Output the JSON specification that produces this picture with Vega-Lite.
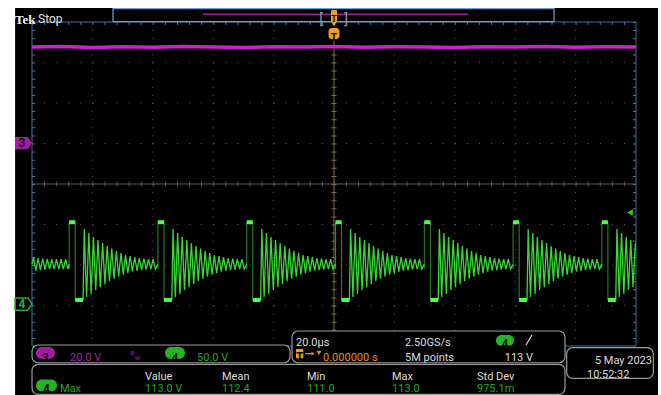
{
"$schema":"https://vega.github.io/schema/vega-lite/v6.json",
"width":661,"height":395,"autosize":{"type":"none"},"padding":0,
"background":"#ffffff",
"config":{"view":{"stroke":null},"axis":{"disable":true},"text":{"font":"Roboto","fontSize":11}},
"resolve":{"scale":{"y":"independent"}},
"layer":[
{"layer":[
{"data":{"values":[{}]},"mark":{"type":"rect","fill":"#000000"},"encoding":{"x":{"datum":-105.6,"scale":{"domain":[-110.6,108.28],"nice":false,"zero":false}},"x2":{"datum":107.3},"y":{"datum":4.346,"scale":{"domain":[-5.2099,4.5432],"nice":false,"zero":false}},"y2":{"datum":-5.3}}},
{"data":{"values":[{"t":-80},{"t":-60},{"t":-40},{"t":-20},{"t":20},{"t":40},{"t":60},{"t":80}]},"mark":{"type":"rule","stroke":"#666666","strokeWidth":1,"strokeDash":[1,7.1]},"encoding":{"x":{"field":"t","type":"quantitative","scale":{"domain":[-110.6,108.28],"nice":false,"zero":false}},"y":{"datum":4,"scale":{"domain":[-5.2099,4.5432],"nice":false,"zero":false}},"y2":{"datum":-4}}},
{"data":{"values":[{"d":-3},{"d":-2},{"d":-1},{"d":1},{"d":2},{"d":3}]},"mark":{"type":"rule","stroke":"#666666","strokeWidth":1,"strokeDash":[1,11.08]},"encoding":{"x":{"datum":-100,"scale":{"domain":[-110.6,108.28],"nice":false,"zero":false}},"x2":{"datum":100},"y":{"field":"d","type":"quantitative","scale":{"domain":[-5.2099,4.5432],"nice":false,"zero":false}}}},
{"data":{"values":[{}]},"mark":{"type":"rule","stroke":"#5f5a50","strokeWidth":1},"encoding":{"x":{"datum":-100,"scale":{"domain":[-110.6,108.28],"nice":false,"zero":false}},"x2":{"datum":100},"y":{"datum":0,"scale":{"domain":[-5.2099,4.5432],"nice":false,"zero":false}}}},
{"data":{"values":[{}]},"mark":{"type":"rule","stroke":"#5f5a50","strokeWidth":5,"strokeDash":[1,11.08]},"encoding":{"x":{"datum":-100,"scale":{"domain":[-110.6,108.28],"nice":false,"zero":false}},"x2":{"datum":100},"y":{"datum":0,"scale":{"domain":[-5.2099,4.5432],"nice":false,"zero":false}}}},
{"data":{"values":[{}]},"mark":{"type":"rule","stroke":"#7a6c52","strokeWidth":1},"encoding":{"x":{"datum":0,"scale":{"domain":[-110.6,108.28],"nice":false,"zero":false}},"y":{"datum":3.58,"scale":{"domain":[-5.2099,4.5432],"nice":false,"zero":false}},"y2":{"datum":-4}}},
{"data":{"values":[{}]},"mark":{"type":"rule","stroke":"#7a6c52","strokeWidth":5,"strokeDash":[1,7.1]},"encoding":{"x":{"datum":0,"scale":{"domain":[-110.6,108.28],"nice":false,"zero":false}},"y":{"datum":4,"scale":{"domain":[-5.2099,4.5432],"nice":false,"zero":false}},"y2":{"datum":-4}}},
{"data":{"values":[{}]},"mark":{"type":"rule","stroke":"#56748f","strokeWidth":3,"strokeDash":[1,11.08]},"encoding":{"x":{"datum":-100,"scale":{"domain":[-110.6,108.28],"nice":false,"zero":false}},"x2":{"datum":100},"y":{"datum":3.96,"scale":{"domain":[-5.2099,4.5432],"nice":false,"zero":false}}}},
{"data":{"values":[{"t":-99.5},{"t":99.5}]},"mark":{"type":"rule","stroke":"#56748f","strokeWidth":3,"strokeDash":[1,7.1]},"encoding":{"x":{"field":"t","type":"quantitative","scale":{"domain":[-110.6,108.28],"nice":false,"zero":false}},"y":{"datum":4,"scale":{"domain":[-5.2099,4.5432],"nice":false,"zero":false}},"y2":{"datum":-4}}},
{"data":{"values":[{}]},"mark":{"type":"rect","filled":false,"stroke":"#3d6e9e","strokeWidth":1},"encoding":{"x":{"datum":-100,"scale":{"domain":[-110.6,108.28],"nice":false,"zero":false}},"x2":{"datum":100},"y":{"datum":4,"scale":{"domain":[-5.2099,4.5432],"nice":false,"zero":false}},"y2":{"datum":-4}}},
{"data":{"values":[{}]},"mark":{"type":"rect","fill":"#000000","stroke":"#6f9fcf","strokeWidth":1.2},"encoding":{"x":{"datum":-73.18,"scale":{"domain":[-110.6,108.28],"nice":false,"zero":false}},"x2":{"datum":72.85},"y":{"datum":4.328,"scale":{"domain":[-5.2099,4.5432],"nice":false,"zero":false}},"y2":{"datum":4.007}}},
{"data":{"values":[{}]},"mark":{"type":"rule","stroke":"#a01ca0","strokeWidth":1.5},"encoding":{"x":{"datum":-43.4,"scale":{"domain":[-110.6,108.28],"nice":false,"zero":false}},"x2":{"datum":44.4},"y":{"datum":4.19,"scale":{"domain":[-5.2099,4.5432],"nice":false,"zero":false}}}},
{"data":{"values":[{"label":"[","t":-4.3,"d":4.06},{"label":"]","t":4.0,"d":4.06}]},"mark":{"type":"text","fontSize":14,"fill":"#9a9a9a","align":"center"},"encoding":{"x":{"field":"t","type":"quantitative","scale":{"domain":[-110.6,108.28],"nice":false,"zero":false}},"y":{"field":"d","type":"quantitative","scale":{"domain":[-5.2099,4.5432],"nice":false,"zero":false}},"text":{"field":"label"}}},
{"data":{"values":[{}]},"mark":{"type":"rect","fill":"#f0a020","cornerRadius":1},"encoding":{"x":{"datum":-1.0,"scale":{"domain":[-110.6,108.28],"nice":false,"zero":false}},"x2":{"datum":1.0},"y":{"datum":4.296,"scale":{"domain":[-5.2099,4.5432],"nice":false,"zero":false}},"y2":{"datum":4.025}}},
{"data":{"values":[{}]},"mark":{"type":"point","shape":"triangle-down","filled":true,"fill":"#f0a020","size":30,"opacity":1},"encoding":{"x":{"datum":0,"scale":{"domain":[-110.6,108.28],"nice":false,"zero":false}},"y":{"datum":3.95,"scale":{"domain":[-5.2099,4.5432],"nice":false,"zero":false}}}},
{"data":{"values":[{}]},"mark":{"type":"rect","fill":"#f0a020","cornerRadius":3},"encoding":{"x":{"datum":-1.8,"scale":{"domain":[-110.6,108.28],"nice":false,"zero":false}},"x2":{"datum":1.8},"y":{"datum":3.852,"scale":{"domain":[-5.2099,4.5432],"nice":false,"zero":false}},"y2":{"datum":3.58}}},
{"data":{"values":[{"label":"T","t":0,"d":4.062}]},"mark":{"type":"text","fontSize":9,"fontWeight":"bold","fill":"#1a1000","align":"center"},"encoding":{"x":{"field":"t","type":"quantitative","scale":{"domain":[-110.6,108.28],"nice":false,"zero":false}},"y":{"field":"d","type":"quantitative","scale":{"domain":[-5.2099,4.5432],"nice":false,"zero":false}},"text":{"field":"label"}}},
{"data":{"values":[{"label":"T","t":0,"d":3.615}]},"mark":{"type":"text","fontSize":11,"fontWeight":"bold","fill":"#1a1000","align":"center"},"encoding":{"x":{"field":"t","type":"quantitative","scale":{"domain":[-110.6,108.28],"nice":false,"zero":false}},"y":{"field":"d","type":"quantitative","scale":{"domain":[-5.2099,4.5432],"nice":false,"zero":false}},"text":{"field":"label"}}},
{"data":{"values":[{"label":"Tek","t":-105.6,"d":4.049}]},"mark":{"type":"text","font":"Liberation Sans Narrow, Liberation Serif","fontSize":13,"fontWeight":"bold","fill":"#f4f4f4","align":"left"},"encoding":{"x":{"field":"t","type":"quantitative","scale":{"domain":[-110.6,108.28],"nice":false,"zero":false}},"y":{"field":"d","type":"quantitative","scale":{"domain":[-5.2099,4.5432],"nice":false,"zero":false}},"text":{"field":"label"}}},
{"data":{"values":[{"label":"Stop","t":-98.0,"d":4.067}]},"mark":{"type":"text","fontSize":12,"fill":"#e0e0e0","align":"left"},"encoding":{"x":{"field":"t","type":"quantitative","scale":{"domain":[-110.6,108.28],"nice":false,"zero":false}},"y":{"field":"d","type":"quantitative","scale":{"domain":[-5.2099,4.5432],"nice":false,"zero":false}},"text":{"field":"label"}}}
]},
{"layer":[
{"data":{"values":[{"t":-100,"v":47.4},{"t":-90,"v":47.6},{"t":-80,"v":47.2},{"t":-70,"v":47.5},{"t":-60,"v":47.3},{"t":-50,"v":47.6},{"t":-40,"v":47.4},{"t":-30,"v":47.2},{"t":-20,"v":47.5},{"t":-10,"v":47.4},{"t":0,"v":47.6},{"t":10,"v":47.3},{"t":20,"v":47.5},{"t":30,"v":47.4},{"t":40,"v":47.2},{"t":50,"v":47.5},{"t":60,"v":47.4},{"t":70,"v":47.6},{"t":80,"v":47.3},{"t":90,"v":47.5},{"t":100,"v":47.4}]},"mark":{"type":"line","stroke":"#d21fd2","strokeWidth":3.5},"encoding":{"x":{"field":"t","type":"quantitative","scale":{"domain":[-110.6,108.28],"nice":false,"zero":false}},"y":{"field":"v","type":"quantitative","scale":{"domain":[-124.44,70.62],"nice":false,"zero":false}}}},
{"data":{"values":[{}]},"mark":{"type":"point","shape":"M-1,-0.72L0.5,-0.72L1,0L0.5,0.72L-1,0.72Z","filled":true,"fill":"#a41ca4","size":289,"opacity":1},"encoding":{"x":{"datum":-102.81,"scale":{"domain":[-110.6,108.28],"nice":false,"zero":false}},"y":{"datum":0,"scale":{"domain":[-124.44,70.62],"nice":false,"zero":false}}}},
{"data":{"values":[{"label":"3"}]},"mark":{"type":"text","fontSize":12,"fontWeight":"bold","fill":"#1a001a","align":"center","baseline":"middle"},"encoding":{"x":{"datum":-103.3,"scale":{"domain":[-110.6,108.28],"nice":false,"zero":false}},"y":{"datum":0,"scale":{"domain":[-124.44,70.62],"nice":false,"zero":false}},"text":{"field":"label"}}}
]},
{"layer":[
{"data":{"values":[
{"t":-87.7,"a":43,"b":101},{"t":-85.7,"a":101,"b":5},
{"t":-58.3,"a":43,"b":101},{"t":-56.3,"a":101,"b":5},
{"t":-28.9,"a":43,"b":101},{"t":-26.9,"a":101,"b":5},
{"t":0.5,"a":43,"b":101},{"t":2.5,"a":101,"b":5},
{"t":29.9,"a":43,"b":101},{"t":31.9,"a":101,"b":5},
{"t":59.3,"a":43,"b":101},{"t":61.3,"a":101,"b":5},
{"t":88.7,"a":43,"b":101},{"t":90.7,"a":101,"b":5}
]},"mark":{"type":"rule","stroke":"#2b8f2b","strokeWidth":1},"encoding":{"x":{"field":"t","type":"quantitative","scale":{"domain":[-110.6,108.28],"nice":false,"zero":false}},"y":{"field":"a","type":"quantitative","scale":{"domain":[-112.3,375.3],"nice":false,"zero":false}},"y2":{"field":"b"}}},
{"data":{"values":[
{"p":0,"t":-100,"v":49},{"p":0,"t":-99.5,"v":57.9},{"p":0,"t":-98.74,"v":41.3},{"p":0,"t":-97.98,"v":56.7},{"p":0,"t":-97.22,"v":41.9},{"p":0,"t":-96.46,"v":56.1},{"p":0,"t":-95.7,"v":42.5},{"p":0,"t":-94.94,"v":55.5},{"p":0,"t":-94.18,"v":43.1},{"p":0,"t":-93.42,"v":55.5},{"p":0,"t":-92.66,"v":43.1},{"p":0,"t":-91.9,"v":55.5},{"p":0,"t":-91.14,"v":43.1},{"p":0,"t":-90.38,"v":55.5},{"p":0,"t":-89.62,"v":43.1},{"p":0,"t":-88.86,"v":55.5},{"p":0,"t":-88.1,"v":43.1},{"p":0,"t":-87.7,"v":49},
{"p":1,"t":-83.1,"v":5},{"p":1,"t":-82.7,"v":92.5},{"p":1,"t":-81.94,"v":8.6},{"p":1,"t":-81.18,"v":87.6},{"p":1,"t":-80.42,"v":12.3},{"p":1,"t":-79.66,"v":82.6},{"p":1,"t":-78.9,"v":17.2},{"p":1,"t":-78.14,"v":78.9},{"p":1,"t":-77.38,"v":20.9},{"p":1,"t":-76.62,"v":75.2},{"p":1,"t":-75.86,"v":24.6},{"p":1,"t":-75.1,"v":71.5},{"p":1,"t":-74.34,"v":28.3},{"p":1,"t":-73.58,"v":68.4},{"p":1,"t":-72.82,"v":31.4},{"p":1,"t":-72.06,"v":65.3},{"p":1,"t":-71.3,"v":33.9},{"p":1,"t":-70.54,"v":62.9},{"p":1,"t":-69.78,"v":36.3},{"p":1,"t":-69.02,"v":60.4},{"p":1,"t":-68.26,"v":38.2},{"p":1,"t":-67.5,"v":59.2},{"p":1,"t":-66.74,"v":40.0},{"p":1,"t":-65.98,"v":57.9},{"p":1,"t":-65.22,"v":41.3},{"p":1,"t":-64.46,"v":56.7},{"p":1,"t":-63.7,"v":41.9},{"p":1,"t":-62.94,"v":56.1},{"p":1,"t":-62.18,"v":42.5},{"p":1,"t":-61.42,"v":55.5},{"p":1,"t":-60.66,"v":43.1},{"p":1,"t":-59.9,"v":55.5},{"p":1,"t":-59.14,"v":43.1},{"p":1,"t":-58.3,"v":49},
{"p":2,"t":-53.7,"v":5},{"p":2,"t":-53.3,"v":92.5},{"p":2,"t":-52.54,"v":8.6},{"p":2,"t":-51.78,"v":87.6},{"p":2,"t":-51.02,"v":12.3},{"p":2,"t":-50.26,"v":82.6},{"p":2,"t":-49.5,"v":17.2},{"p":2,"t":-48.74,"v":78.9},{"p":2,"t":-47.98,"v":20.9},{"p":2,"t":-47.22,"v":75.2},{"p":2,"t":-46.46,"v":24.6},{"p":2,"t":-45.7,"v":71.5},{"p":2,"t":-44.94,"v":28.3},{"p":2,"t":-44.18,"v":68.4},{"p":2,"t":-43.42,"v":31.4},{"p":2,"t":-42.66,"v":65.3},{"p":2,"t":-41.9,"v":33.9},{"p":2,"t":-41.14,"v":62.9},{"p":2,"t":-40.38,"v":36.3},{"p":2,"t":-39.62,"v":60.4},{"p":2,"t":-38.86,"v":38.2},{"p":2,"t":-38.1,"v":59.2},{"p":2,"t":-37.34,"v":40.0},{"p":2,"t":-36.58,"v":57.9},{"p":2,"t":-35.82,"v":41.3},{"p":2,"t":-35.06,"v":56.7},{"p":2,"t":-34.3,"v":41.9},{"p":2,"t":-33.54,"v":56.1},{"p":2,"t":-32.78,"v":42.5},{"p":2,"t":-32.02,"v":55.5},{"p":2,"t":-31.26,"v":43.1},{"p":2,"t":-30.5,"v":55.5},{"p":2,"t":-29.74,"v":43.1},{"p":2,"t":-28.9,"v":49},
{"p":3,"t":-24.3,"v":5},{"p":3,"t":-23.9,"v":92.5},{"p":3,"t":-23.14,"v":8.6},{"p":3,"t":-22.38,"v":87.6},{"p":3,"t":-21.62,"v":12.3},{"p":3,"t":-20.86,"v":82.6},{"p":3,"t":-20.1,"v":17.2},{"p":3,"t":-19.34,"v":78.9},{"p":3,"t":-18.58,"v":20.9},{"p":3,"t":-17.82,"v":75.2},{"p":3,"t":-17.06,"v":24.6},{"p":3,"t":-16.3,"v":71.5},{"p":3,"t":-15.54,"v":28.3},{"p":3,"t":-14.78,"v":68.4},{"p":3,"t":-14.02,"v":31.4},{"p":3,"t":-13.26,"v":65.3},{"p":3,"t":-12.5,"v":33.9},{"p":3,"t":-11.74,"v":62.9},{"p":3,"t":-10.98,"v":36.3},{"p":3,"t":-10.22,"v":60.4},{"p":3,"t":-9.46,"v":38.2},{"p":3,"t":-8.7,"v":59.2},{"p":3,"t":-7.94,"v":40.0},{"p":3,"t":-7.18,"v":57.9},{"p":3,"t":-6.42,"v":41.3},{"p":3,"t":-5.66,"v":56.7},{"p":3,"t":-4.9,"v":41.9},{"p":3,"t":-4.14,"v":56.1},{"p":3,"t":-3.38,"v":42.5},{"p":3,"t":-2.62,"v":55.5},{"p":3,"t":-1.86,"v":43.1},{"p":3,"t":-1.1,"v":55.5},{"p":3,"t":-0.34,"v":43.1},{"p":3,"t":0.5,"v":49},
{"p":4,"t":5.1,"v":5},{"p":4,"t":5.5,"v":92.5},{"p":4,"t":6.26,"v":8.6},{"p":4,"t":7.02,"v":87.6},{"p":4,"t":7.78,"v":12.3},{"p":4,"t":8.54,"v":82.6},{"p":4,"t":9.3,"v":17.2},{"p":4,"t":10.06,"v":78.9},{"p":4,"t":10.82,"v":20.9},{"p":4,"t":11.58,"v":75.2},{"p":4,"t":12.34,"v":24.6},{"p":4,"t":13.1,"v":71.5},{"p":4,"t":13.86,"v":28.3},{"p":4,"t":14.62,"v":68.4},{"p":4,"t":15.38,"v":31.4},{"p":4,"t":16.14,"v":65.3},{"p":4,"t":16.9,"v":33.9},{"p":4,"t":17.66,"v":62.9},{"p":4,"t":18.42,"v":36.3},{"p":4,"t":19.18,"v":60.4},{"p":4,"t":19.94,"v":38.2},{"p":4,"t":20.7,"v":59.2},{"p":4,"t":21.46,"v":40.0},{"p":4,"t":22.22,"v":57.9},{"p":4,"t":22.98,"v":41.3},{"p":4,"t":23.74,"v":56.7},{"p":4,"t":24.5,"v":41.9},{"p":4,"t":25.26,"v":56.1},{"p":4,"t":26.02,"v":42.5},{"p":4,"t":26.78,"v":55.5},{"p":4,"t":27.54,"v":43.1},{"p":4,"t":28.3,"v":55.5},{"p":4,"t":29.06,"v":43.1},{"p":4,"t":29.9,"v":49},
{"p":5,"t":34.5,"v":5},{"p":5,"t":34.9,"v":92.5},{"p":5,"t":35.66,"v":8.6},{"p":5,"t":36.42,"v":87.6},{"p":5,"t":37.18,"v":12.3},{"p":5,"t":37.94,"v":82.6},{"p":5,"t":38.7,"v":17.2},{"p":5,"t":39.46,"v":78.9},{"p":5,"t":40.22,"v":20.9},{"p":5,"t":40.98,"v":75.2},{"p":5,"t":41.74,"v":24.6},{"p":5,"t":42.5,"v":71.5},{"p":5,"t":43.26,"v":28.3},{"p":5,"t":44.02,"v":68.4},{"p":5,"t":44.78,"v":31.4},{"p":5,"t":45.54,"v":65.3},{"p":5,"t":46.3,"v":33.9},{"p":5,"t":47.06,"v":62.9},{"p":5,"t":47.82,"v":36.3},{"p":5,"t":48.58,"v":60.4},{"p":5,"t":49.34,"v":38.2},{"p":5,"t":50.1,"v":59.2},{"p":5,"t":50.86,"v":40.0},{"p":5,"t":51.62,"v":57.9},{"p":5,"t":52.38,"v":41.3},{"p":5,"t":53.14,"v":56.7},{"p":5,"t":53.9,"v":41.9},{"p":5,"t":54.66,"v":56.1},{"p":5,"t":55.42,"v":42.5},{"p":5,"t":56.18,"v":55.5},{"p":5,"t":56.94,"v":43.1},{"p":5,"t":57.7,"v":55.5},{"p":5,"t":58.46,"v":43.1},{"p":5,"t":59.3,"v":49},
{"p":6,"t":63.9,"v":5},{"p":6,"t":64.3,"v":92.5},{"p":6,"t":65.06,"v":8.6},{"p":6,"t":65.82,"v":87.6},{"p":6,"t":66.58,"v":12.3},{"p":6,"t":67.34,"v":82.6},{"p":6,"t":68.1,"v":17.2},{"p":6,"t":68.86,"v":78.9},{"p":6,"t":69.62,"v":20.9},{"p":6,"t":70.38,"v":75.2},{"p":6,"t":71.14,"v":24.6},{"p":6,"t":71.9,"v":71.5},{"p":6,"t":72.66,"v":28.3},{"p":6,"t":73.42,"v":68.4},{"p":6,"t":74.18,"v":31.4},{"p":6,"t":74.94,"v":65.3},{"p":6,"t":75.7,"v":33.9},{"p":6,"t":76.46,"v":62.9},{"p":6,"t":77.22,"v":36.3},{"p":6,"t":77.98,"v":60.4},{"p":6,"t":78.74,"v":38.2},{"p":6,"t":79.5,"v":59.2},{"p":6,"t":80.26,"v":40.0},{"p":6,"t":81.02,"v":57.9},{"p":6,"t":81.78,"v":41.3},{"p":6,"t":82.54,"v":56.7},{"p":6,"t":83.3,"v":41.9},{"p":6,"t":84.06,"v":56.1},{"p":6,"t":84.82,"v":42.5},{"p":6,"t":85.58,"v":55.5},{"p":6,"t":86.34,"v":43.1},{"p":6,"t":87.1,"v":55.5},{"p":6,"t":87.86,"v":43.1},{"p":6,"t":88.7,"v":49},
{"p":7,"t":93.3,"v":5},{"p":7,"t":93.7,"v":92.5},{"p":7,"t":94.46,"v":8.6},{"p":7,"t":95.22,"v":87.6},{"p":7,"t":95.98,"v":12.3},{"p":7,"t":96.74,"v":82.6},{"p":7,"t":97.5,"v":17.2},{"p":7,"t":98.26,"v":78.9},{"p":7,"t":99.02,"v":20.9},{"p":7,"t":99.78,"v":75.2}
]},"mark":{"type":"line","stroke":"#36d836","strokeWidth":1.3},"encoding":{"x":{"field":"t","type":"quantitative","scale":{"domain":[-110.6,108.28],"nice":false,"zero":false}},"y":{"field":"v","type":"quantitative","scale":{"domain":[-112.3,375.3],"nice":false,"zero":false}},"detail":{"field":"p","type":"nominal"}}},
{"data":{"values":[
{"t":-87.7,"t2":-85.7,"v":101},{"t":-85.7,"t2":-83.1,"v":5},
{"t":-58.3,"t2":-56.3,"v":101},{"t":-56.3,"t2":-53.7,"v":5},
{"t":-28.9,"t2":-26.9,"v":101},{"t":-26.9,"t2":-24.3,"v":5},
{"t":0.5,"t2":2.5,"v":101},{"t":2.5,"t2":5.1,"v":5},
{"t":29.9,"t2":31.9,"v":101},{"t":31.9,"t2":34.5,"v":5},
{"t":59.3,"t2":61.3,"v":101},{"t":61.3,"t2":63.9,"v":5},
{"t":88.7,"t2":90.7,"v":101},{"t":90.7,"t2":93.3,"v":5}
]},"mark":{"type":"rule","stroke":"#4dff4d","strokeWidth":4},"encoding":{"x":{"field":"t","type":"quantitative","scale":{"domain":[-110.6,108.28],"nice":false,"zero":false}},"x2":{"field":"t2"},"y":{"field":"v","type":"quantitative","scale":{"domain":[-112.3,375.3],"nice":false,"zero":false}}}},
{"data":{"values":[{}]},"mark":{"type":"point","shape":"M-1,-0.72L0.5,-0.72L1,0L0.5,0.72L-1,0.72Z","filled":true,"fill":"#000000","stroke":"#27b027","strokeWidth":1.5,"size":289,"opacity":1},"encoding":{"x":{"datum":-102.81,"scale":{"domain":[-110.6,108.28],"nice":false,"zero":false}},"y":{"datum":0,"scale":{"domain":[-112.3,375.3],"nice":false,"zero":false}}}},
{"data":{"values":[{"label":"4"}]},"mark":{"type":"text","fontSize":12,"fontWeight":"bold","fill":"#27b027","align":"center","baseline":"middle"},"encoding":{"x":{"datum":-103.3,"scale":{"domain":[-110.6,108.28],"nice":false,"zero":false}},"y":{"datum":0,"scale":{"domain":[-112.3,375.3],"nice":false,"zero":false}},"text":{"field":"label"}}},
{"data":{"values":[{}]},"mark":{"type":"point","shape":"triangle-left","filled":true,"fill":"#22cc22","size":45,"opacity":1},"encoding":{"x":{"datum":98.0,"scale":{"domain":[-110.6,108.28],"nice":false,"zero":false}},"y":{"datum":113,"scale":{"domain":[-112.3,375.3],"nice":false,"zero":false}}}}
]},
{"layer":[
{"data":{"values":[{"t1":-100,"t2":-14.57,"d1":-3.975,"d2":-4.413},{"t1":-13.91,"t2":76.49,"d1":-3.63,"d2":-4.413},{"t1":-100,"t2":76.49,"d1":-4.452,"d2":-5.193},{"t1":77.04,"t2":105.74,"d1":-4.042,"d2":-4.798}]},"mark":{"type":"rect","fill":"#000000","stroke":"#9a9a9a","strokeWidth":1.2,"cornerRadius":6},"encoding":{"x":{"field":"t1","type":"quantitative","scale":{"domain":[-110.6,108.28],"nice":false,"zero":false}},"x2":{"field":"t2"},"y":{"field":"d1","type":"quantitative","scale":{"domain":[-5.2099,4.5432],"nice":false,"zero":false}},"y2":{"field":"d2"}}},
{"data":{"values":[{"t1":-98.7,"t2":-92.4,"d1":-4.025,"d2":-4.321}]},"mark":{"type":"rect","fill":"#a41ca4","cornerRadius":6},"encoding":{"x":{"field":"t1","type":"quantitative","scale":{"domain":[-110.6,108.28],"nice":false,"zero":false}},"x2":{"field":"t2"},"y":{"field":"d1","type":"quantitative","scale":{"domain":[-5.2099,4.5432],"nice":false,"zero":false}},"y2":{"field":"d2"}}},
{"data":{"values":[{"t1":-55.96,"t2":-49.34,"d1":-4.025,"d2":-4.321},{"t1":53.64,"t2":59.6,"d1":-3.728,"d2":-3.995},{"t1":-98.68,"t2":-91.72,"d1":-4.83,"d2":-5.12}]},"mark":{"type":"rect","fill":"#22b422","cornerRadius":6},"encoding":{"x":{"field":"t1","type":"quantitative","scale":{"domain":[-110.6,108.28],"nice":false,"zero":false}},"x2":{"field":"t2"},"y":{"field":"d1","type":"quantitative","scale":{"domain":[-5.2099,4.5432],"nice":false,"zero":false}},"y2":{"field":"d2"}}},
{"data":{"values":[{"t1":-12.58,"t2":-10.17,"d1":-4.074,"d2":-4.304}]},"mark":{"type":"rect","fill":"#f0a020","cornerRadius":1},"encoding":{"x":{"field":"t1","type":"quantitative","scale":{"domain":[-110.6,108.28],"nice":false,"zero":false}},"x2":{"field":"t2"},"y":{"field":"d1","type":"quantitative","scale":{"domain":[-5.2099,4.5432],"nice":false,"zero":false}},"y2":{"field":"d2"}}},
{"data":{"values":[{"label":"3","t":-95.55,"d":-4.284},{"label":"4","t":-52.65,"d":-4.284},{"label":"4","t":56.62,"d":-3.951},{"label":"4","t":-95.2,"d":-5.074},{"label":"T","t":-11.37,"d":-4.28}]},"mark":{"type":"text","fontSize":12,"fontWeight":"bold","fill":"#0a0a0a","align":"center"},"encoding":{"x":{"field":"t","type":"quantitative","scale":{"domain":[-110.6,108.28],"nice":false,"zero":false}},"y":{"field":"d","type":"quantitative","scale":{"domain":[-5.2099,4.5432],"nice":false,"zero":false}},"text":{"field":"label"}}},
{"data":{"values":[{"label":"20.0µs","t":-12.58,"d":-3.938},{"label":"2.50GS/s","t":23.51,"d":-3.938},{"label":"5M points","t":23.51,"d":-4.296},{"label":"Value","t":-62.58,"d":-4.765},{"label":"Mean","t":-37.09,"d":-4.765},{"label":"Min","t":-8.94,"d":-4.765},{"label":"Max","t":19.21,"d":-4.765},{"label":"Std Dev","t":47.35,"d":-4.765},{"label":"10:52:32","t":83.77,"d":-4.716}]},"mark":{"type":"text","fill":"#dcdcdc","align":"left"},"encoding":{"x":{"field":"t","type":"quantitative","scale":{"domain":[-110.6,108.28],"nice":false,"zero":false}},"y":{"field":"d","type":"quantitative","scale":{"domain":[-5.2099,4.5432],"nice":false,"zero":false}},"text":{"field":"label"}}},
{"data":{"values":[{"label":"113 V","t":65.89,"d":-4.296},{"label":"5 May  2023","t":105.3,"d":-4.37}]},"mark":{"type":"text","fill":"#dcdcdc","align":"right"},"encoding":{"x":{"field":"t","type":"quantitative","scale":{"domain":[-110.6,108.28],"nice":false,"zero":false}},"y":{"field":"d","type":"quantitative","scale":{"domain":[-5.2099,4.5432],"nice":false,"zero":false}},"text":{"field":"label"}}},
{"data":{"values":[{"label":"50.0 V","t":-45.36,"d":-4.296},{"label":"Max","t":-90.73,"d":-5.074},{"label":"113.0 V","t":-62.58,"d":-5.074},{"label":"112.4","t":-37.09,"d":-5.074},{"label":"111.0","t":-8.94,"d":-5.074},{"label":"113.0","t":19.21,"d":-5.074},{"label":"975.1m","t":47.35,"d":-5.074}]},"mark":{"type":"text","fill":"#1fa81f","align":"left"},"encoding":{"x":{"field":"t","type":"quantitative","scale":{"domain":[-110.6,108.28],"nice":false,"zero":false}},"y":{"field":"d","type":"quantitative","scale":{"domain":[-5.2099,4.5432],"nice":false,"zero":false}},"text":{"field":"label"}}},
{"data":{"values":[{"label":"20.0 V","t":-87.42,"d":-4.296}]},"mark":{"type":"text","fill":"#a824a8","align":"left"},"encoding":{"x":{"field":"t","type":"quantitative","scale":{"domain":[-110.6,108.28],"nice":false,"zero":false}},"y":{"field":"d","type":"quantitative","scale":{"domain":[-5.2099,4.5432],"nice":false,"zero":false}},"text":{"field":"label"}}},
{"data":{"values":[{"label":"B","t":-67.4,"d":-4.17},{"label":"W","t":-66.0,"d":-4.3}]},"mark":{"type":"text","fontSize":6,"fill":"#a824a8","align":"left"},"encoding":{"x":{"field":"t","type":"quantitative","scale":{"domain":[-110.6,108.28],"nice":false,"zero":false}},"y":{"field":"d","type":"quantitative","scale":{"domain":[-5.2099,4.5432],"nice":false,"zero":false}},"text":{"field":"label"}}},
{"data":{"values":[{"label":"0.000000 s","t":-3.64,"d":-4.296}]},"mark":{"type":"text","fill":"#e0901a","align":"left"},"encoding":{"x":{"field":"t","type":"quantitative","scale":{"domain":[-110.6,108.28],"nice":false,"zero":false}},"y":{"field":"d","type":"quantitative","scale":{"domain":[-5.2099,4.5432],"nice":false,"zero":false}},"text":{"field":"label"}}},
{"data":{"values":[{}]},"mark":{"type":"rule","stroke":"#e0901a","strokeWidth":1.3},"encoding":{"x":{"datum":-9.6,"scale":{"domain":[-110.6,108.28],"nice":false,"zero":false}},"x2":{"datum":-7.0},"y":{"datum":-4.19,"scale":{"domain":[-5.2099,4.5432],"nice":false,"zero":false}}}},
{"data":{"values":[{}]},"mark":{"type":"point","shape":"triangle-right","filled":true,"fill":"#e0901a","size":14,"opacity":1},"encoding":{"x":{"datum":-6.9,"scale":{"domain":[-110.6,108.28],"nice":false,"zero":false}},"y":{"datum":-4.19,"scale":{"domain":[-5.2099,4.5432],"nice":false,"zero":false}}}},
{"data":{"values":[{}]},"mark":{"type":"point","shape":"triangle-down","filled":true,"fill":"#e0901a","size":24,"opacity":1},"encoding":{"x":{"datum":-5.0,"scale":{"domain":[-110.6,108.28],"nice":false,"zero":false}},"y":{"datum":-4.17,"scale":{"domain":[-5.2099,4.5432],"nice":false,"zero":false}}}},
{"data":{"values":[{}]},"mark":{"type":"rule","stroke":"#dcdcdc","strokeWidth":1.2},"encoding":{"x":{"datum":63.58,"scale":{"domain":[-110.6,108.28],"nice":false,"zero":false}},"x2":{"datum":65.56},"y":{"datum":-3.975,"scale":{"domain":[-5.2099,4.5432],"nice":false,"zero":false}},"y2":{"datum":-3.728}}}
]}
]
}
